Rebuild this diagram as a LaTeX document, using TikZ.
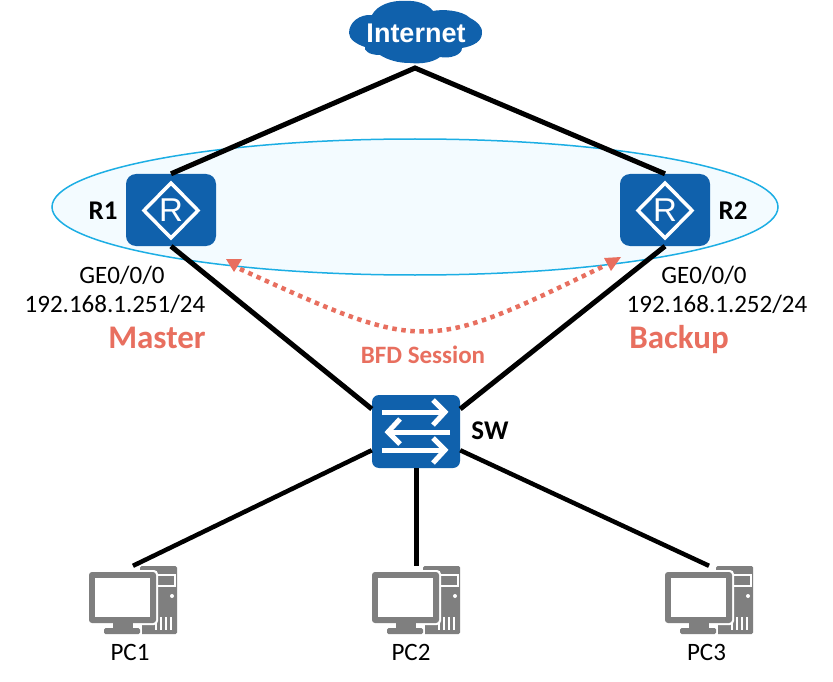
\documentclass[tikz,border=0pt]{standalone}
\usepackage{fontspec}
\setmainfont{Carlito}
\newfontfamily\arialb{Liberation Sans}
\usetikzlibrary{arrows.meta}
\definecolor{hw}{HTML}{1061AC}
\definecolor{sal}{HTML}{E86F5F}
\definecolor{halo}{HTML}{1CAEE4}
\definecolor{halofill}{HTML}{F3FBFF}
\definecolor{pcg}{HTML}{7F7F7F}
\newcommand{\fsz}[1]{\fontsize{#1}{#1}\selectfont}
\tikzset{
  link/.style={black,line width=5pt},
  devbox/.style={fill=hw,draw=none,rounded corners=10pt,inner sep=0pt},
  routerbox/.style={devbox,minimum width=90pt,minimum height=72pt},
  switchbox/.style={devbox,minimum width=88pt,minimum height=73pt,rounded corners=7pt},
  lbl/.style={inner sep=0pt,text=black,font=\fsz{25}},
  devname/.style={inner sep=0pt,text=black,font=\fsz{27}\bfseries},
  pclbl/.style={inner sep=0pt,text=black,font=\fsz{25}},
  role/.style={inner sep=0pt,text=sal,font=\fsz{33}\bfseries,anchor=base},
  wh/.style={white,line width=5pt,line join=miter},
  pcholder/.style={inner sep=0pt,minimum width=88pt,minimum height=68pt,draw=none},
}
\newcommand{\pcicon}[1]{%
  \begin{scope}[xshift=#1pt]
    \fill[pcg,rounded corners=1.5pt] (140,566) rectangle (177,634);
    \draw[white,line width=1.5pt] (157,575) rectangle (175,586);
    \fill[white] (172,596) circle (2pt);
    \foreach \vx in {156,161,166,171} \draw[white,line width=1.3pt] (\vx,617) -- (\vx,630);
    \fill[white,rounded corners=4pt] (87,570) rectangle (158,625);
    \fill[white] (102,621) rectangle (142,636);
    \fill[pcg,rounded corners=3pt] (89,572) rectangle (156,623);
    \fill[white] (95,578) rectangle (150,617);
    \fill[pcg] (113,623) rectangle (133,629);
    \fill[pcg,rounded corners=1.5pt] (104,628) rectangle (140,634);
  \end{scope}}
\begin{document}
\begin{tikzpicture}[x=1pt,y=-1pt]
\useasboundingbox (0,0) rectangle (833,682);
\fill[white] (0,0) rectangle (833,682);
% halo
\draw[halo,fill=halofill,line width=1.5pt] (415,207) ellipse [x radius=363,y radius=68];
% nodes
\node[routerbox] (r1) at (171,210) {};
\node[routerbox] (r2) at (665,210) {};
\node[switchbox] (sw) at (416,431.5) {};
\node[pcholder] (pc1) at (133,600) {};
\node[pcholder] (pc2) at (416,600) {};
\node[pcholder] (pc3) at (709,600) {};
\coordinate (inetb) at (415,68);
% links
\draw[link] (r1.north) -- (inetb) -- (r2.north);
\draw[link] (r1.south) -- (sw.153);
\draw[link] (r2.south) -- (sw.27);
\draw[link] (sw.south) -- (pc2.north);
\draw[link,line width=4.5pt] (sw.203) -- (pc1.north);
\draw[link,line width=4.5pt] (sw.-23) -- (pc3.north);
% cloud
\fill[hw] (349,33)
  .. controls (349,22) and (360,14) .. (372,15)
  .. controls (377,5) and (392,0) .. (405,1)
  .. controls (416,0) and (428,4) .. (433,11)
  .. controls (442,9) and (462,10) .. (470,18)
  .. controls (478,22) and (483,28) .. (482,33)
  .. controls (482,41) and (474,46) .. (462,48)
  .. controls (462,55) and (450,59) .. (440,57)
  .. controls (432,63) and (420,64) .. (410,63)
  .. controls (398,63) and (388,60) .. (380,55)
  .. controls (368,55) and (364,50) .. (365,47)
  .. controls (356,44) and (349,39) .. (349,33) -- cycle;
\node[inner sep=0pt,text=white,font=\arialb\fsz{27}\bfseries] (inet) at (416,33) {Internet};
% router glyphs
\foreach \cx/\nm in {171/gr1,665/gr2}{
  \draw[white,line width=3.5pt,line join=miter] (\cx,183) -- (\cx+27,210.5) -- (\cx,238) -- (\cx-27,210.5) -- cycle;
  \node[inner sep=0pt,text=white,font=\arialb\fsz{33}] (\nm) at (\cx,210.5) {R};
}
% switch glyph
\draw[wh] (382,412) -- (445,412);
\draw[wh] (433,400) -- (445,412) -- (433,425);
\draw[wh] (450,432) -- (388,432);
\draw[wh] (400,419) -- (388,432) -- (400,444);
\draw[wh] (382,450) -- (445,450);
\draw[wh] (433,438) -- (445,450) -- (433,463);
% PCs
\pcicon{0}\pcicon{283}\pcicon{576}
% BFD
\coordinate (bfda) at (240,269);
\coordinate (bfdb) at (606,265);
\draw[sal,line width=4.5pt,dash pattern=on 4.5pt off 4.6pt]
  (bfda) .. controls (425,353) and (425,353) .. (bfdb);
\fill[sal] (226,259) -- (242,259) -- (234,272) -- cycle;
\fill[sal] (621,257) -- (604,258) -- (611,271) -- cycle;
% text
\node[devname] (tr1) at (103,211) {R1};
\node[devname] (tr2) at (733,211) {R2};
\node[devname] (tsw) at (490,431) {SW};
\node[lbl] (ge1) at (122,275) {GE0/0/0};
\node[lbl] (ip1) at (115,304) {192.168.1.251/24};
\node[lbl] (ge2) at (704,275) {GE0/0/0};
\node[lbl] (ip2) at (717,304) {192.168.1.252/24};
\node[role] (mst) at (157,348) {Master};
\node[role] (bkp) at (679,348) {Backup};
\node[inner sep=0pt,text=sal,font=\fsz{25}\bfseries] (bfd) at (423,355) {BFD Session};
\node[pclbl] (t1) at (130,652) {PC1};
\node[pclbl] (t2) at (411,652) {PC2};
\node[pclbl] (t3) at (706.5,652) {PC3};
\end{tikzpicture}
\end{document}
